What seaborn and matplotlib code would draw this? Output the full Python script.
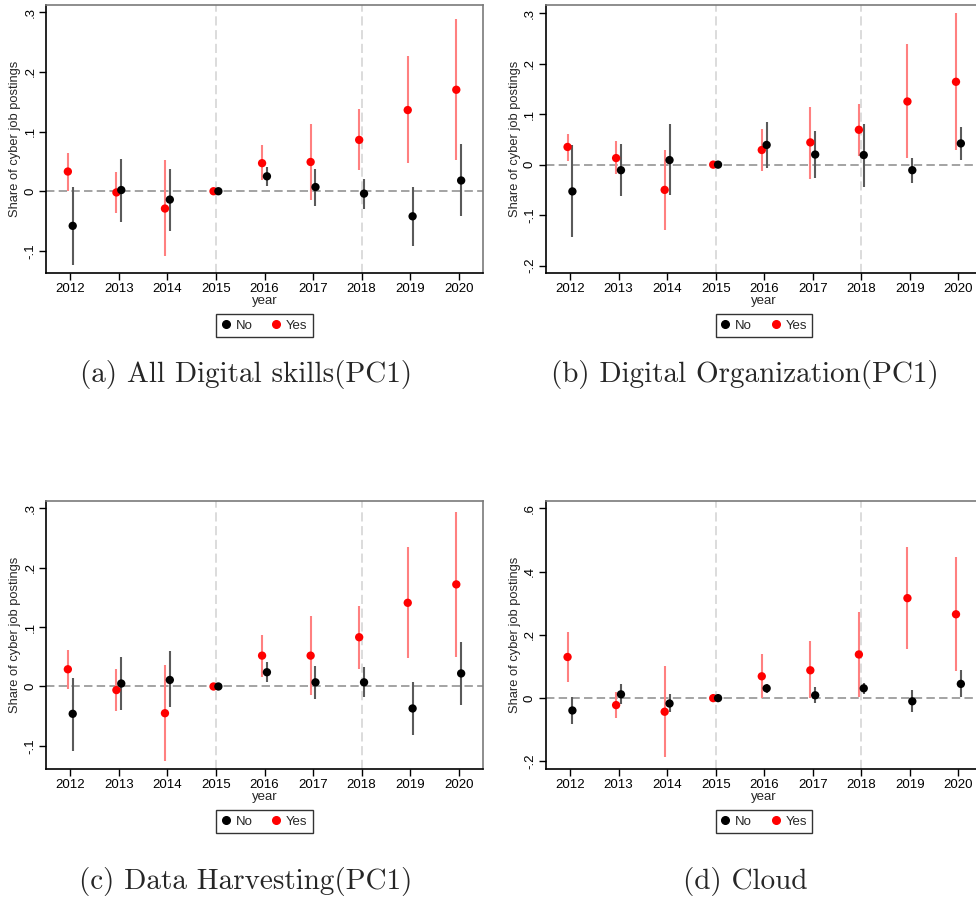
import numpy as np
import pandas as pd
import matplotlib
matplotlib.use("Agg")
import matplotlib.pyplot as plt
import seaborn as sns
from matplotlib.lines import Line2D

# ---------------- data ----------------
years = [2012, 2013, 2014, 2015, 2016, 2017, 2018, 2019, 2020]
groups = ["No", "Yes"]

# (a) All Digital skills(PC1)
a_yes    = [0.033, -0.002, -0.029, 0.0, 0.047, 0.049, 0.086, 0.136, 0.170]
a_yes_hi = [0.064, 0.032, 0.052, 0.0, 0.078, 0.113, 0.138, 0.226, 0.288]
a_yes_lo = [0.001, -0.036, -0.109, 0.0, 0.018, -0.014, 0.035, 0.047, 0.052]
a_no     = [-0.058, 0.002, -0.014, 0.0, 0.025, 0.007, -0.004, -0.042, 0.018]
a_no_hi  = [0.007, 0.054, 0.038, 0.0, 0.041, 0.038, 0.021, 0.007, 0.079]
a_no_lo  = [-0.123, -0.051, -0.067, 0.0, 0.008, -0.024, -0.029, -0.091, -0.042]

# (b) Digital Organization(PC1)
b_yes    = [0.035, 0.013, -0.050, 0.0, 0.029, 0.044, 0.069, 0.125, 0.164]
b_yes_hi = [0.061, 0.046, 0.029, 0.0, 0.070, 0.115, 0.120, 0.238, 0.301]
b_yes_lo = [0.008, -0.019, -0.129, 0.0, -0.012, -0.028, 0.018, 0.013, 0.028]
b_no     = [-0.053, -0.011, 0.009, 0.0, 0.039, 0.020, 0.019, -0.011, 0.042]
b_no_hi  = [0.039, 0.041, 0.081, 0.0, 0.085, 0.067, 0.081, 0.013, 0.074]
b_no_lo  = [-0.144, -0.063, -0.061, 0.0, -0.006, -0.026, -0.044, -0.036, 0.009]

# (c) Data Harvesting(PC1)
c_yes    = [0.029, -0.006, -0.045, 0.0, 0.052, 0.052, 0.083, 0.141, 0.172]
c_yes_hi = [0.061, 0.030, 0.037, 0.0, 0.087, 0.119, 0.136, 0.235, 0.294]
c_yes_lo = [-0.004, -0.041, -0.126, 0.0, 0.016, -0.015, 0.030, 0.048, 0.050]
c_no     = [-0.046, 0.005, 0.011, 0.0, 0.024, 0.007, 0.007, -0.037, 0.022]
c_no_hi  = [0.015, 0.050, 0.059, 0.0, 0.041, 0.035, 0.032, 0.007, 0.075]
c_no_lo  = [-0.109, -0.039, -0.035, 0.0, 0.007, -0.021, -0.017, -0.081, -0.032]

# (d) Cloud
d_yes    = [0.130, -0.022, -0.043, 0.0, 0.069, 0.088, 0.138, 0.316, 0.265]
d_yes_hi = [0.208, 0.020, 0.102, 0.0, 0.139, 0.181, 0.273, 0.477, 0.446]
d_yes_lo = [0.052, -0.064, -0.186, 0.0, -0.001, -0.001, 0.005, 0.155, 0.085]
d_no     = [-0.039, 0.012, -0.017, 0.0, 0.031, 0.009, 0.031, -0.010, 0.045]
d_no_hi  = [0.003, 0.044, 0.012, 0.0, 0.044, 0.034, 0.048, 0.025, 0.088]
d_no_lo  = [-0.081, -0.020, -0.045, 0.0, 0.015, -0.016, 0.012, -0.045, 0.002]

captions = ["(a) All Digital skills(PC1)", "(b) Digital Organization(PC1)",
            "(c) Data Harvesting(PC1)", "(d) Cloud"]
ytick_vals_abc = [-0.1, 0.0, 0.1, 0.2, 0.3]
ytick_lbls_abc = ["-.1", "0", ".1", ".2", ".3"]
ytick_vals_b = [-0.2, -0.1, 0.0, 0.1, 0.2, 0.3]
ytick_lbls_b = ["-.2", "-.1", "0", ".1", ".2", ".3"]
ytick_vals_d = [-0.2, 0.0, 0.2, 0.4, 0.6]
ytick_lbls_d = ["-.2", "0", ".2", ".4", ".6"]
ref_years = [2015, 2018]

# ---------------- style ----------------
sns.set_theme(style="white")
plt.rcParams["font.family"] = ["Liberation Sans", "DejaVu Sans"]

W, H = 976, 901
fig = plt.figure(figsize=(W / 100, H / 100), dpi=100)

def frac_rect(left, top, right, bottom):
    return [left / W, 1 - bottom / H, (right - left) / W, (bottom - top) / H]

panels = [
    dict(rect=frac_rect(46, 5, 483, 273), yes=(a_yes, a_yes_lo, a_yes_hi), no=(a_no, a_no_lo, a_no_hi),
         ylim=(-0.137, 0.312), yt=(ytick_vals_abc, ytick_lbls_abc), cap=captions[0], capxy=(246, 375)),
    dict(rect=frac_rect(545.7, 5, 982.7, 273), yes=(b_yes, b_yes_lo, b_yes_hi), no=(b_no, b_no_lo, b_no_hi),
         ylim=(-0.2145, 0.316), yt=(ytick_vals_b, ytick_lbls_b), cap=captions[1], capxy=(745, 375)),
    dict(rect=frac_rect(46, 500.7, 483, 769), yes=(c_yes, c_yes_lo, c_yes_hi), no=(c_no, c_no_lo, c_no_hi),
         ylim=(-0.139, 0.313), yt=(ytick_vals_abc, ytick_lbls_abc), cap=captions[2], capxy=(246, 881)),
    dict(rect=frac_rect(545.7, 500.7, 982.7, 769), yes=(d_yes, d_yes_lo, d_yes_hi), no=(d_no, d_no_lo, d_no_hi),
         ylim=(-0.224, 0.624), yt=(ytick_vals_d, ytick_lbls_d), cap=captions[3], capxy=(745, 881)),
]

palette = {"No": "black", "Yes": "#ff0000"}
ci_colors = {"No": "#5a5a5a", "Yes": "#ff8080"}
offsets = {"No": 0.05, "Yes": -0.05}

for p in panels:
    ax = fig.add_axes(p["rect"])
    rows = []
    for g, (est, lo, hi) in (("Yes", p["yes"]), ("No", p["no"])):
        for y, e, l, h in zip(years, est, lo, hi):
            rows.append(dict(year=y, group=g, est=e, lo=l, hi=h))
    df = pd.DataFrame(rows)
    df["xpos"] = df["year"] + df["group"].map(offsets)

    ax.axhline(0, color="#8a8a8a", lw=1.1, ls=(0, (5.5, 2.8)), zorder=1)
    for v in ref_years:
        ax.axvline(v, color="#d2d2d2", lw=1.1, ls=(0, (6, 3)), zorder=1)

    ax.vlines(df["xpos"], df["lo"], df["hi"], colors=df["group"].map(ci_colors), lw=1.5, zorder=2)
    sns.scatterplot(data=df, x="xpos", y="est", hue="group", palette=palette, s=36,
                    edgecolor="none", linewidth=0, ax=ax, legend=False, zorder=3)

    ax.set_xlim(2011.5, 2020.5)
    ax.set_ylim(*p["ylim"])
    ax.set_xticks(years)
    ax.set_xticklabels([str(y) for y in years])
    ax.set_yticks(p["yt"][0])
    ax.set_yticklabels(p["yt"][1], rotation=90, va="center")
    ax.tick_params(axis="both", which="both", bottom=True, left=True, direction="out",
                   length=5, width=1, pad=2, labelsize=9.5, colors="black")
    ax.set_xlabel("year", fontsize=9.5, labelpad=0)
    ax.set_ylabel("Share of cyber job postings", fontsize=9.3, labelpad=2)
    for s in ["left", "bottom"]:
        ax.spines[s].set_color("black")
        ax.spines[s].set_linewidth(1.2)
    for s in ["top", "right"]:
        ax.spines[s].set_color("#7a7a7a")
        ax.spines[s].set_linewidth(1.2)

    handles = [Line2D([], [], ls="none", marker="o", ms=5.5, mfc=palette[g], mec=palette[g]) for g in groups]
    leg = ax.legend(handles, groups, loc="upper center", bbox_to_anchor=(0.5, -0.153), ncol=2,
                    frameon=True, fancybox=False, fontsize=9.5, handlelength=0.6,
                    handletextpad=0.45, columnspacing=1.5, borderpad=0.4, borderaxespad=0)
    leg.get_frame().set_edgecolor("black")
    leg.get_frame().set_linewidth(1.0)

    fig.text(p["capxy"][0] / W, 1 - p["capxy"][1] / H, p["cap"], family="cmr10",
             fontsize=21, ha="center", va="center")

fig.savefig("out.png", dpi=100)
